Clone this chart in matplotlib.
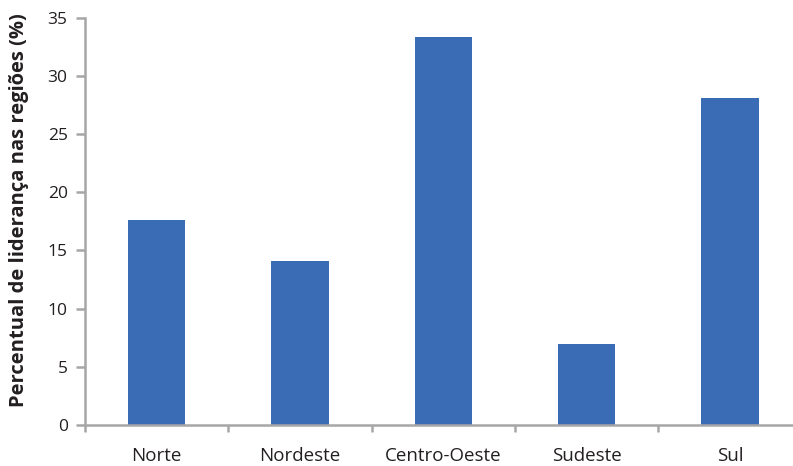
import matplotlib.pyplot as plt
import numpy as np

regioes = ['Norte', 'Nordeste', 'Centro-Oeste', 'Sudeste', 'Sul']
percentual = [17.6, 14.1, 33.3, 7.0, 28.1]
yticks = [0, 5, 10, 15, 20, 25, 30, 35]

plt.rcParams['font.family'] = ['Open Sans', 'DejaVu Sans']

fig = plt.figure(figsize=(7.93, 4.66), dpi=100)
ax = fig.add_axes([85 / 793, 41 / 466, 708 / 793, 407.5 / 466])

x = np.arange(len(regioes))
ax.bar(x, percentual, width=0.4, color='#3a6cb5')

ax.set_yticks(yticks)

# category labels sit at the centres, tick marks at the boundaries
ax.set_xticks(np.arange(-0.5, 5, 1.0))
ax.set_xticklabels([])
ax.set_xticks(x, minor=True)
ax.set_xticklabels(regioes, minor=True, fontsize=13.5)
ax.tick_params(axis='x', which='minor', length=0, pad=16, colors='#231f20')
ax.tick_params(axis='x', which='major', length=5, width=1.8, color='#a6a6a6')
ax.tick_params(axis='y', length=6.5, width=1.8, color='#a6a6a6', labelsize=12.5,
               labelcolor='#231f20', pad=6)

# limits go last so set_xticks does not widen them
ax.set_xlim(-0.5, 4.44)
ax.set_ylim(0, 35)

for s in ['top', 'right']:
    ax.spines[s].set_visible(False)
for s in ['left', 'bottom']:
    ax.spines[s].set_color('#a6a6a6')
    ax.spines[s].set_linewidth(1.8)

ax.set_ylabel('Percentual de liderança nas regiões (%)', fontsize=14.5,
              fontweight='bold', color='#231f20')
ax.yaxis.set_label_coords(-0.079, 0.5276)

fig.savefig('out.png', dpi=100)
